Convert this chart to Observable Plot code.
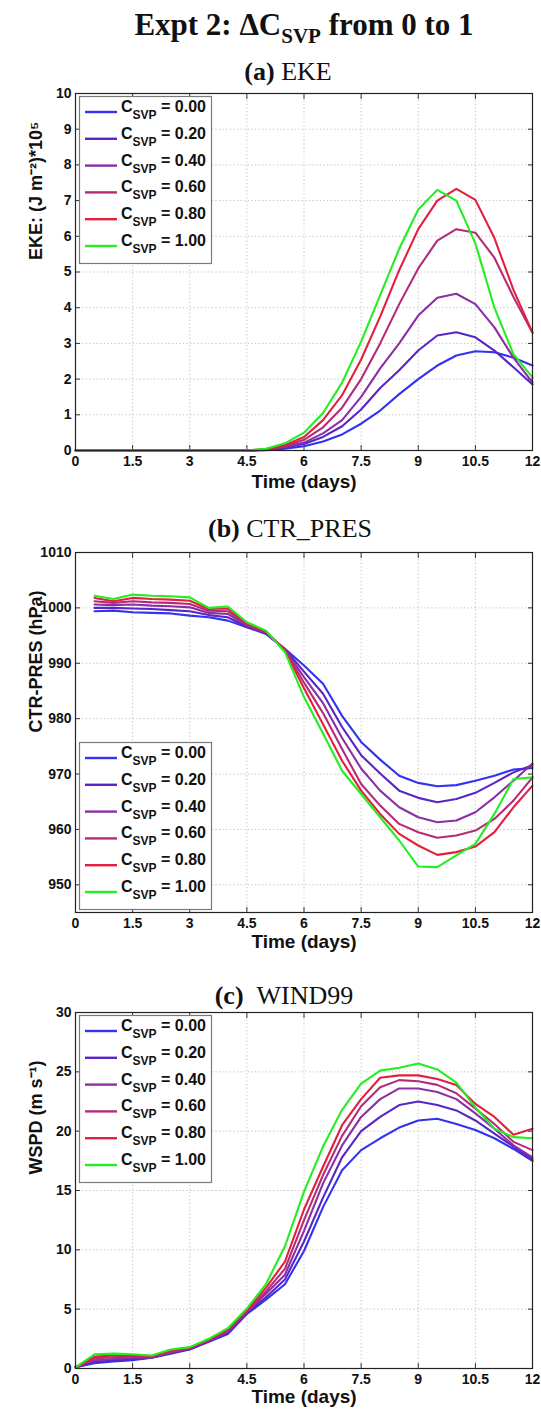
<!DOCTYPE html>
<html><head><meta charset="utf-8">
<script src="https://cdn.jsdelivr.net/npm/d3@7"></script>
<script src="https://cdn.jsdelivr.net/npm/@observablehq/plot@0.6"></script>
<style>
body{margin:0;background:#fff;}
#root{position:relative;width:541px;height:1412px;overflow:hidden;background:#fff;}
#root > div.panel{position:absolute;left:0;}
#overlay{position:absolute;left:0;top:0;}
</style>
</head><body>
<div id="root"></div>
<script>
// ---------- data ----------
const svpLabels = ["0.00","0.20","0.40","0.60","0.80","1.00"];
const svpColors = ["#3232f0","#5a24c6","#8a30a4","#b42c78","#e2203e","#22ee22"];

const xTicks = [0,1.5,3,4.5,6,7.5,9,10.5,12];

// (a) EKE, t = 0..12 every 0.5 day
const timeA = [0,0.5,1,1.5,2,2.5,3,3.5,4,4.5,5,5.5,6,6.5,7,7.5,8,8.5,9,9.5,10,10.5,11,11.5,12];
const eke000 = [0,0,0,0,0,0,0,0,0,0,0.01,0.05,0.12,0.25,0.45,0.75,1.12,1.58,2.0,2.38,2.66,2.78,2.75,2.6,2.38];
const eke020 = [0,0,0,0,0,0,0,0,0,0,0.02,0.08,0.18,0.38,0.68,1.15,1.75,2.25,2.8,3.22,3.31,3.17,2.8,2.33,1.85];
const eke040 = [0,0,0,0,0,0,0,0,0,0,0.02,0.1,0.22,0.48,0.85,1.5,2.3,3.0,3.78,4.28,4.39,4.1,3.45,2.6,1.9];
const eke060 = [0,0,0,0,0,0,0,0,0,0,0.03,0.12,0.3,0.65,1.2,2.0,3.0,4.1,5.1,5.88,6.2,6.1,5.4,4.3,3.3];
const eke080 = [0,0,0,0,0,0,0,0,0,0,0.04,0.15,0.38,0.85,1.55,2.55,3.75,5.05,6.2,7.0,7.33,7.02,5.95,4.5,3.3];
const eke100 = [0,0,0,0,0,0,0,0,0,0,0.05,0.2,0.5,1.05,1.9,3.05,4.35,5.65,6.75,7.3,7.0,5.8,4.0,2.7,2.05];
const ekeTicks = [0,1,2,3,4,5,6,7,8,9,10];

// (b) CTR_PRES, t = 0.5..12
const timeB = [0.5,1,1.5,2,2.5,3,3.5,4,4.5,5,5.5,6,6.5,7,7.5,8,8.5,9,9.5,10,10.5,11,11.5,12];
const pres000 = [999.4,999.5,999.2,999.1,999.0,998.6,998.3,997.7,996.5,995.3,992.6,989.6,986.3,980.5,975.8,972.6,969.7,968.4,967.8,968.0,968.8,969.7,970.8,971.1];
const pres020 = [1000.0,1000.0,999.9,999.8,999.6,999.4,998.7,998.3,996.6,995.4,992.55,988.5,984.5,978.5,973.4,970.1,967.0,965.7,964.9,965.5,966.6,968.4,970.3,971.6];
const pres040 = [1000.6,1000.5,1000.6,1000.4,1000.3,1000.1,999.1,998.9,996.8,995.5,992.5,987.5,982.8,976.5,971.0,967.0,964.0,962.2,961.3,961.6,963.1,965.8,968.8,971.9];
const pres060 = [1001.2,1000.9,1001.2,1001.0,1000.9,1000.7,999.5,999.4,997.0,995.6,992.4,986.5,981.0,974.5,968.2,964.3,961.0,959.5,958.5,958.9,959.8,961.9,965.2,969.4];
const pres080 = [1001.8,1001.2,1001.8,1001.6,1001.5,1001.3,999.8,999.9,997.2,995.8,992.3,985.5,979.0,972.4,967.0,962.8,959.2,957.1,955.4,955.9,956.9,959.5,964.0,967.9];
const pres100 = [1002.2,1001.6,1002.4,1002.2,1002.1,1001.9,1000.0,1000.25,997.4,995.9,992.0,983.9,977.3,970.6,966.4,962.2,958.0,953.3,953.2,955.3,957.4,962.8,969.1,969.4];
const presTicks = [950,960,970,980,990,1000,1010];

// (c) WIND99, t = 0..12
const timeC = [0,0.5,1,1.5,2,2.5,3,3.5,4,4.5,5,5.5,6,6.5,7,7.5,8,8.5,9,9.5,10,10.5,11,11.5,12];
const wspd000 = [0.1,0.45,0.6,0.7,0.9,1.25,1.6,2.25,2.9,4.6,5.8,7.1,9.9,13.6,16.7,18.4,19.4,20.3,20.9,21.05,20.6,20.1,19.4,18.5,17.5];
const wspd020 = [0.1,0.55,0.7,0.8,0.9,1.3,1.65,2.3,3.0,4.7,6.0,7.5,10.7,14.4,17.8,20.0,21.2,22.2,22.5,22.2,21.75,20.9,19.8,18.7,17.6];
const wspd040 = [0.1,0.7,0.8,0.9,0.95,1.35,1.7,2.35,3.1,4.75,6.3,7.9,11.6,15.6,18.8,21.2,22.7,23.6,23.6,23.3,22.7,21.5,20.2,18.8,17.8];
const wspd060 = [0.1,0.85,0.95,1.0,1.0,1.4,1.7,2.4,3.2,4.8,6.5,8.4,12.5,16.3,19.6,22.1,23.7,24.3,24.2,23.9,23.2,21.9,20.6,19.1,18.4];
const wspd080 = [0.1,1.0,1.1,1.1,1.05,1.5,1.75,2.45,3.3,4.9,6.8,9.0,13.4,17.0,20.5,22.7,24.5,24.7,24.7,24.4,23.9,22.3,21.2,19.7,20.2];
const wspd100 = [0.1,1.2,1.25,1.2,1.1,1.6,1.8,2.5,3.4,5.05,7.1,10.3,14.9,18.7,21.8,24.0,25.1,25.35,25.7,25.2,24.1,22.0,20.2,19.5,19.4];
const wspdTicks = [0,5,10,15,20,25,30];

// ---------- helpers ----------
function table(time, arrays) {
  const out = [];
  arrays.forEach((arr, i) => arr.forEach((v, j) => out.push({t: time[j], v, k: svpLabels[i]})));
  return out;
}
const sans = "'Liberation Sans', Arial, Helvetica, sans-serif";
const grid = {stroke: "#b8b8b8", strokeOpacity: 1, strokeDasharray: "1.2,2.4", strokeWidth: 0.9};

function panel({top, height, marginBottom, yDomain, yTicks, data, ylabel, ylabelDy, xlabelDy}) {
  const chart = Plot.plot({
    width: 541, height, marginLeft: 75, marginRight: 9, marginTop: 8, marginBottom,
    style: {fontFamily: sans, fontSize: "14px", fontWeight: "bold", color: "#111", background: "white", overflow: "visible"},
    x: {domain: [0, 12]},
    y: {domain: yDomain},
    color: {domain: svpLabels, range: svpColors},
    marks: [
      Plot.gridX(xTicks, grid),
      Plot.gridY(yTicks, grid),
      Plot.axisX(xTicks, {anchor: "bottom", tickSize: 0, tickPadding: 6, label: null, fontSize: 14, tickFormat: d => String(d)}),
      Plot.axisX(xTicks, {anchor: "bottom", tickSize: 5, dy: -5, text: null, label: null, stroke: "#333"}),
      Plot.axisX(xTicks, {anchor: "top", tickSize: 5, dy: 5, text: null, label: null, stroke: "#333"}),
      Plot.axisY(yTicks, {anchor: "left", tickSize: 0, tickPadding: 4, label: null, fontSize: 14, tickFormat: d => String(d)}),
      Plot.axisY(yTicks, {anchor: "left", tickSize: 5, dx: 5, text: null, label: null, stroke: "#333"}),
      Plot.axisY(yTicks, {anchor: "right", tickSize: 5, dx: -5, text: null, label: null, stroke: "#333"}),
      Plot.line(data, {x: "t", y: "v", z: "k", stroke: "k", strokeWidth: 2.1}),
      Plot.frame({stroke: "#222", strokeWidth: 1.2}),
      Plot.text(["Time (days)"], {text: d => d, frameAnchor: "bottom", dy: xlabelDy, fontSize: 19, fontWeight: "bold", fill: "#111"}),
      Plot.text([ylabel], {text: d => d, frameAnchor: "left", rotate: -90, dx: -39, dy: ylabelDy, fontSize: 18, fontWeight: "bold", fill: "#111"})
    ]
  });
  const div = document.createElement("div");
  div.className = "panel";
  div.style.top = top + "px";
  div.appendChild(chart);
  document.getElementById("root").appendChild(div);
}

panel({top: 85, height: 417, marginBottom: 52, yDomain: [0, 10], yTicks: ekeTicks,
  data: table(timeA, [eke000, eke020, eke040, eke060, eke080, eke100]),
  ylabel: "EKE: (J m\u207B\u00B2)*10\u2075", ylabelDy: -12, xlabelDy: 37});
panel({top: 544, height: 420, marginBottom: 52, yDomain: [945, 1010], yTicks: presTicks,
  data: table(timeB, [pres000, pres020, pres040, pres060, pres080, pres100]),
  ylabel: "CTR-PRES (hPa)", ylabelDy: 0, xlabelDy: 35});
panel({top: 1004, height: 408, marginBottom: 44, yDomain: [0, 30], yTicks: wspdTicks,
  data: table(timeC, [wspd000, wspd020, wspd040, wspd060, wspd080, wspd100]),
  ylabel: "WSPD (m s\u207B\u00B9)", ylabelDy: -16, xlabelDy: 34});

// ---------- overlay: title, panel titles, legends ----------
const ov = d3.select("#root").append("svg").attr("id", "overlay")
  .attr("width", 541).attr("height", 1412).style("pointer-events", "none");
const serif = "'Liberation Serif', 'Times New Roman', Times, serif";

const t = ov.append("text").attr("x", 304).attr("y", 35).attr("text-anchor", "middle")
  .attr("font-family", serif).attr("font-weight", "bold").attr("font-size", 31).attr("fill", "#111");
t.append("tspan").text("Expt 2: \u0394C");
t.append("tspan").attr("font-size", 21).attr("dy", 8).text("SVP");
t.append("tspan").attr("dy", -8).text(" from 0 to 1");

function subtitle(x, y, tag, name) {
  const s = ov.append("text").attr("x", x).attr("y", y).attr("text-anchor", "middle")
    .attr("font-family", serif).attr("font-size", 26).attr("fill", "#111");
  s.append("tspan").attr("font-weight", "bold").text(tag);
  s.append("tspan").text("\u00A0" + name);
}
subtitle(288, 80, "(a)", "EKE");
subtitle(290, 537, "(b)", "CTR_PRES");
subtitle(284, 1004, "(c)", "\u00A0WIND99");

function legend(boxTop) {
  const g = ov.append("g");
  g.append("rect").attr("x", 79.5).attr("y", boxTop + 0.5).attr("width", 132).attr("height", 167)
    .attr("fill", "white").attr("stroke", "#7a7a7a").attr("stroke-width", 1.2);
  svpLabels.forEach((lab, i) => {
    const y = boxTop + 16 + i * 26.8;
    g.append("line").attr("x1", 85).attr("x2", 117).attr("y1", y).attr("y2", y)
      .attr("stroke", svpColors[i]).attr("stroke-width", 2.4);
    const tx = g.append("text").attr("x", 121).attr("y", y).attr("font-family", sans)
      .attr("font-weight", "bold").attr("font-size", 16).attr("fill", "#111");
    tx.append("tspan").text("C");
    tx.append("tspan").attr("font-size", 12).attr("dy", 7).text("SVP");
    tx.append("tspan").attr("dy", -7).text(" = " + lab);
  });
}
legend(96);
legend(742);
legend(1015);
</script>
</body></html>
